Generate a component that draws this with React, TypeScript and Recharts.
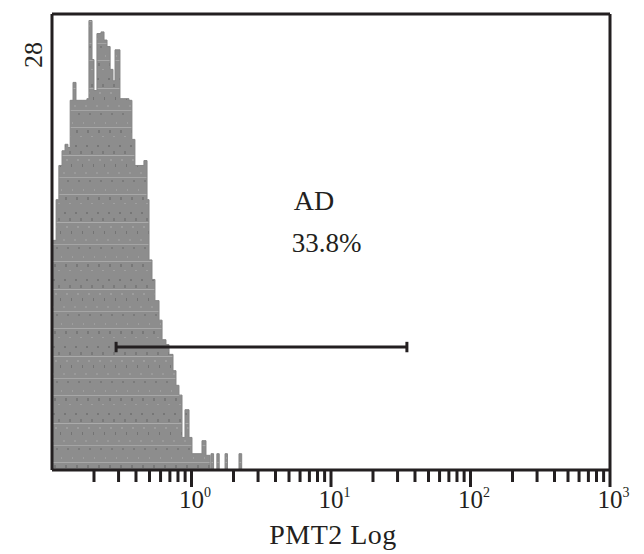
import React from "react";
import {
  ComposedChart,
  Area,
  XAxis,
  YAxis,
  ReferenceLine,
  ReferenceDot,
} from "recharts";

// Histogram bin left edges (PMT2, log units) and counts
const binStarts = [
  0.1, 0.1034, 0.107, 0.112, 0.118, 0.124, 0.13, 0.135, 0.1415, 0.1486,
  0.156, 0.1668, 0.178, 0.184, 0.1936, 0.2, 0.21, 0.2245, 0.236, 0.248,
  0.261, 0.2735, 0.283, 0.307, 0.328, 0.356, 0.374, 0.393, 0.427, 0.456,
  0.48, 0.496, 0.521, 0.547, 0.585, 0.615, 0.656, 0.69, 0.737, 0.774,
  0.813, 0.855, 0.898, 0.96, 1.008, 1.189, 1.27, 1.36, 1.38, 1.44,
  1.52, 1.58, 1.74, 1.81, 2.19, 2.29,
];
const binCounts = [
  14.1, 14.1, 16.6, 18.7, 19.6, 20.0, 19.8, 22.7, 23.8, 22.7,
  22.7, 22.7, 22.8, 27.6, 25.2, 23.3, 26.8, 26.9, 26.4, 26.0,
  24.6, 23.9, 25.8, 22.8, 22.8, 22.7, 20.3, 18.7, 18.7, 19.0,
  16.6, 12.9, 11.7, 10.4, 9.2, 8.0, 7.7, 7.1, 6.1, 5.2,
  4.6, 2.0, 3.7, 2.0, 1.0, 1.8, 0.9, 0, 1.0, 0,
  1.0, 0, 1.0, 0, 1.0, 0,
];

const xMajorTicks = [1, 10, 100, 1000];
const xMajorExponents = ["0", "1", "2", "3"];
const xMinorMultipliers = [2, 3, 4, 5, 6, 7, 8, 9];
const xDecadeStarts = [0.1, 1, 10, 100];
const yTicks = [0, 10, 20];
const yMaxLabel = "28";
const xDomain = [0.1, 1000];
const yDomain = [0, 28];

const gateRange = [0.288, 35];
const gateLevel = 7.55;
const gateName = "AD";
const gatePercent = "33.8%";
const gateLabelX = 5.4;
const gateNameY = 15.96;
const gatePercentY = 13.39;
const xAxisTitle = "PMT2 Log";

const data = binStarts.map((x, i) => ({ x, count: binCounts[i] }));

const minorTicks: number[] = [];
xDecadeStarts.forEach((d) =>
  xMinorMultipliers.forEach((m) => minorTicks.push(+(d * m).toPrecision(3)))
);
const allTicks = [...minorTicks, ...xMajorTicks].sort((a, b) => a - b);

const INK = "#231f20";
const FONT = "Liberation Serif";

const XTick = (props: any) => {
  const { x, y, payload } = props;
  const idx = xMajorTicks.indexOf(payload.value);
  const major = idx >= 0;
  return (
    <g>
      <line x1={x} x2={x} y1={y} y2={y + (major ? 17 : 12)} stroke={INK} strokeWidth={3} />
      {major && (
        <text x={x - 12.5} y={y + 38} fontFamily={FONT} fontSize={25} fill={INK} textAnchor="start">
          <tspan>10</tspan>
          <tspan dy={-11} fontSize={14}>{xMajorExponents[idx]}</tspan>
        </text>
      )}
    </g>
  );
};

export default function App() {
  return (
    <ComposedChart
      width={628}
      height={546}
      data={data}
      margin={{ top: 6, right: 26, bottom: 8, left: 0 }}
      style={{ fontFamily: FONT }}
    >
      <defs>
        <pattern id="histTex" patternUnits="userSpaceOnUse" width="11" height="67">
          <rect x="0" y="0" width="11" height="67" fill="#8d8d8d" />
          <rect x="1" y="3" width="2" height="2" fill="#767676" />
          <rect x="6" y="9" width="2" height="3" fill="#7a7a7a" />
          <rect x="3" y="17" width="2" height="2" fill="#9d9d9d" />
          <rect x="8" y="22" width="1" height="3" fill="#737373" />
          <rect x="0" y="30" width="2" height="2" fill="#9a9a9a" />
          <rect x="4" y="38" width="2" height="2" fill="#7b7b7b" />
          <rect x="9" y="47" width="1" height="2" fill="#9e9e9e" />
          <rect x="2" y="55" width="2" height="3" fill="#787878" />
          <rect x="6" y="61" width="2" height="1" fill="#a0a0a0" />
          <rect x="0" y="13" width="11" height="1" fill="#d0d0d0" opacity="0.45" />
          <rect x="0" y="35" width="11" height="1" fill="#d0d0d0" opacity="0.35" />
          <rect x="0" y="52" width="11" height="1" fill="#d0d0d0" opacity="0.4" />
        </pattern>
      </defs>
      <XAxis
        dataKey="x"
        type="number"
        scale="log"
        domain={xDomain}
        allowDataOverflow
        ticks={allTicks}
        interval={0}
        tickLine={false}
        tickSize={0}
        tickMargin={0}
        tick={<XTick />}
        height={76}
        axisLine={{ stroke: INK, strokeWidth: 3 }}
        label={{
          content: (p: any) => {
            const vb = p.viewBox || { x: 44, y: 462, width: 558 };
            return (
              <text
                x={vb.x + 281}
                y={vb.y + 74}
                textAnchor="middle"
                fontFamily={FONT}
                fontSize={28}
                letterSpacing={0.5}
                fill={INK}
              >
                {xAxisTitle}
              </text>
            );
          },
        }}
      />
      <YAxis
        type="number"
        domain={yDomain}
        ticks={yTicks}
        width={44}
        tick={false}
        tickSize={12}
        tickLine={{ stroke: INK, strokeWidth: 3 }}
        axisLine={{ stroke: INK, strokeWidth: 3 }}
        label={{
          content: (p: any) => {
            const vb = p.viewBox || { x: 0, y: 6 };
            const cx = vb.x + 25;
            const cy = vb.y + 41;
            return (
              <text
                x={cx}
                y={cy}
                transform={`rotate(-90 ${cx} ${cy})`}
                textAnchor="middle"
                dominantBaseline="central"
                fontFamily={FONT}
                fontSize={26}
                fill={INK}
              >
                {yMaxLabel}
              </text>
            );
          },
        }}
      />
      <Area
        type="stepAfter"
        dataKey="count"
        stroke="#858585"
        strokeWidth={1}
        fill="url(#histTex)"
        fillOpacity={1}
        isAnimationActive={false}
        dot={false}
        activeDot={false}
      />
      <ReferenceLine y={yDomain[1]} stroke={INK} strokeWidth={3} />
      <ReferenceLine x={xDomain[1]} stroke={INK} strokeWidth={3} />
      <ReferenceLine
        segment={[
          { x: gateRange[0], y: gateLevel },
          { x: gateRange[1], y: gateLevel },
        ]}
        stroke={INK}
        strokeWidth={3}
      />
      <ReferenceLine
        segment={[
          { x: gateRange[0], y: gateLevel - 0.32 },
          { x: gateRange[0], y: gateLevel + 0.32 },
        ]}
        stroke={INK}
        strokeWidth={3}
      />
      <ReferenceLine
        segment={[
          { x: gateRange[1], y: gateLevel - 0.32 },
          { x: gateRange[1], y: gateLevel + 0.32 },
        ]}
        stroke={INK}
        strokeWidth={3}
      />
      <ReferenceDot
        x={gateLabelX}
        y={gateNameY}
        r={0}
        stroke="none"
        fill="none"
        label={{
          content: (p: any) => (
            <text x={p.viewBox.x} y={p.viewBox.y} fontFamily={FONT} fontSize={28} fill={INK} textAnchor="start">
              {gateName}
            </text>
          ),
        }}
      />
      <ReferenceDot
        x={gateLabelX}
        y={gatePercentY}
        r={0}
        stroke="none"
        fill="none"
        label={{
          content: (p: any) => (
            <text x={p.viewBox.x - 2} y={p.viewBox.y} fontFamily={FONT} fontSize={27} fill={INK} textAnchor="start">
              {gatePercent}
            </text>
          ),
        }}
      />
    </ComposedChart>
  );
}
